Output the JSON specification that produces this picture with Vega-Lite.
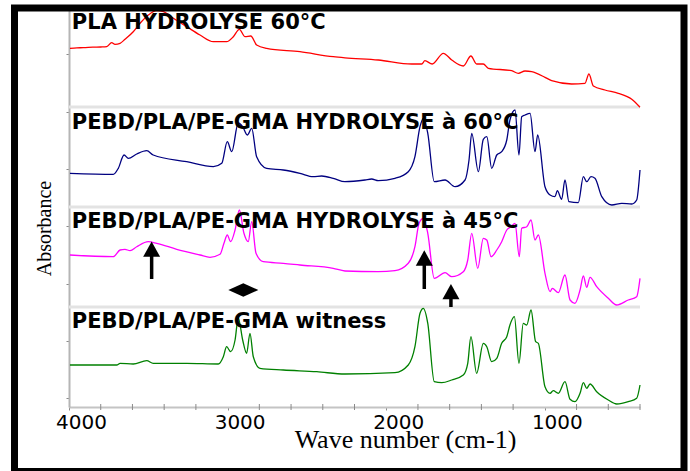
{
  "$schema": "https://vega.github.io/schema/vega-lite/v6.json",
  "width": 571,
  "height": 400,
  "autosize": {"type": "none"},
  "padding": {"left": 69, "top": 7, "right": 50, "bottom": 64},
  "background": "white",
  "config": {
    "view": {"stroke": null},
    "axisX": {
      "titleFont": "Liberation Serif", "titleFontSize": 26, "titleFontWeight": "normal", "titleColor": "#000",
      "titleX": 336, "titleY": 40, "titleBaseline": "alphabetic", "titleAlign": "center",
      "labelFont": "DejaVu Sans", "labelFontSize": 20, "labelColor": "#000",
      "labelAlign": "center", "labelOffset": 12, "labelBaseline": "alphabetic", "labelPadding": 18,
      "labelOverlap": false, "labelFlush": false, "grid": false,
      "domainColor": "#c4c4c4", "domainWidth": 2,
      "tickColor": "#8a8a8a", "tickSize": 3, "tickWidth": 1
    },
    "axisY": {
      "titleFont": "Liberation Serif", "titleFontSize": 20, "titleFontWeight": "normal", "titleColor": "#000",
      "titleX": -19, "titleY": 221, "titleBaseline": "alphabetic", "titleAngle": -90, "titleAlign": "center",
      "labels": false, "grid": false,
      "domainColor": "#b5b5b5", "domainWidth": 2,
      "tickColor": "#8a8a8a", "tickSize": 3, "tickWidth": 1
    }
  },
  "datasets": {
    "spectra": [
      {"s": "PLA", "w": 3994, "a": 3.587}, {"s": "PLA", "w": 3950, "a": 3.592}, {"s": "PLA", "w": 3910, "a": 3.593}, {"s": "PLA", "w": 3850, "a": 3.598}, {"s": "PLA", "w": 3800, "a": 3.6}, {"s": "PLA", "w": 3762, "a": 3.603}, {"s": "PLA", "w": 3731, "a": 3.643}, {"s": "PLA", "w": 3710, "a": 3.627}, {"s": "PLA", "w": 3678, "a": 3.637}, {"s": "PLA", "w": 3647, "a": 3.677}, {"s": "PLA", "w": 3595, "a": 3.753}, {"s": "PLA", "w": 3552, "a": 3.837}, {"s": "PLA", "w": 3500, "a": 3.92}, {"s": "PLA", "w": 3447, "a": 3.963}, {"s": "PLA", "w": 3405, "a": 3.953}, {"s": "PLA", "w": 3342, "a": 3.887}, {"s": "PLA", "w": 3258, "a": 3.803}, {"s": "PLA", "w": 3174, "a": 3.72}, {"s": "PLA", "w": 3090, "a": 3.653}, {"s": "PLA", "w": 3006, "a": 3.653}, {"s": "PLA", "w": 2964, "a": 3.703}, {"s": "PLA", "w": 2926, "a": 3.777}, {"s": "PLA", "w": 2890, "a": 3.703}, {"s": "PLA", "w": 2854, "a": 3.71}, {"s": "PLA", "w": 2817, "a": 3.62}, {"s": "PLA", "w": 2754, "a": 3.587}, {"s": "PLA", "w": 2544, "a": 3.553}, {"s": "PLA", "w": 2334, "a": 3.503}, {"s": "PLA", "w": 2260, "a": 3.492}, {"s": "PLA", "w": 2050, "a": 3.47}, {"s": "PLA", "w": 1839, "a": 3.43}, {"s": "PLA", "w": 1776, "a": 3.43}, {"s": "PLA", "w": 1756, "a": 3.463}, {"s": "PLA", "w": 1710, "a": 3.43}, {"s": "PLA", "w": 1640, "a": 3.537}, {"s": "PLA", "w": 1587, "a": 3.47}, {"s": "PLA", "w": 1514, "a": 3.41}, {"s": "PLA", "w": 1466, "a": 3.51}, {"s": "PLA", "w": 1430, "a": 3.43}, {"s": "PLA", "w": 1388, "a": 3.43}, {"s": "PLA", "w": 1356, "a": 3.387}, {"s": "PLA", "w": 1209, "a": 3.363}, {"s": "PLA", "w": 1167, "a": 3.337}, {"s": "PLA", "w": 1125, "a": 3.36}, {"s": "PLA", "w": 1083, "a": 3.353}, {"s": "PLA", "w": 999, "a": 3.297}, {"s": "PLA", "w": 957, "a": 3.263}, {"s": "PLA", "w": 831, "a": 3.23}, {"s": "PLA", "w": 747, "a": 3.237}, {"s": "PLA", "w": 722, "a": 3.33}, {"s": "PLA", "w": 694, "a": 3.21}, {"s": "PLA", "w": 621, "a": 3.17}, {"s": "PLA", "w": 537, "a": 3.137}, {"s": "PLA", "w": 452, "a": 3.077}, {"s": "PLA", "w": 400, "a": 2.997},

      {"s": "H60", "w": 3994, "a": 2.337}, {"s": "H60", "w": 3721, "a": 2.327}, {"s": "H60", "w": 3689, "a": 2.387}, {"s": "H60", "w": 3653, "a": 2.52}, {"s": "H60", "w": 3626, "a": 2.487}, {"s": "H60", "w": 3573, "a": 2.53}, {"s": "H60", "w": 3510, "a": 2.563}, {"s": "H60", "w": 3469, "a": 2.52}, {"s": "H60", "w": 3258, "a": 2.453}, {"s": "H60", "w": 3090, "a": 2.403}, {"s": "H60", "w": 3037, "a": 2.437}, {"s": "H60", "w": 3002, "a": 2.653}, {"s": "H60", "w": 2974, "a": 2.553}, {"s": "H60", "w": 2933, "a": 2.84}, {"s": "H60", "w": 2905, "a": 2.803}, {"s": "H60", "w": 2876, "a": 2.72}, {"s": "H60", "w": 2848, "a": 2.787}, {"s": "H60", "w": 2817, "a": 2.503}, {"s": "H60", "w": 2754, "a": 2.387}, {"s": "H60", "w": 2649, "a": 2.37}, {"s": "H60", "w": 2544, "a": 2.337}, {"s": "H60", "w": 2460, "a": 2.303}, {"s": "H60", "w": 2407, "a": 2.31}, {"s": "H60", "w": 2334, "a": 2.287}, {"s": "H60", "w": 2260, "a": 2.253}, {"s": "H60", "w": 2134, "a": 2.27}, {"s": "H60", "w": 2092, "a": 2.28}, {"s": "H60", "w": 2050, "a": 2.263}, {"s": "H60", "w": 1945, "a": 2.287}, {"s": "H60", "w": 1861, "a": 2.353}, {"s": "H60", "w": 1819, "a": 2.503}, {"s": "H60", "w": 1787, "a": 2.803}, {"s": "H60", "w": 1766, "a": 2.887}, {"s": "H60", "w": 1738, "a": 2.737}, {"s": "H60", "w": 1697, "a": 2.253}, {"s": "H60", "w": 1629, "a": 2.27}, {"s": "H60", "w": 1566, "a": 2.203}, {"s": "H60", "w": 1503, "a": 2.27}, {"s": "H60", "w": 1478, "a": 2.47}, {"s": "H60", "w": 1461, "a": 2.737}, {"s": "H60", "w": 1419, "a": 2.353}, {"s": "H60", "w": 1388, "a": 2.677}, {"s": "H60", "w": 1366, "a": 2.703}, {"s": "H60", "w": 1335, "a": 2.387}, {"s": "H60", "w": 1303, "a": 2.52}, {"s": "H60", "w": 1272, "a": 2.553}, {"s": "H60", "w": 1240, "a": 2.67}, {"s": "H60", "w": 1220, "a": 2.87}, {"s": "H60", "w": 1188, "a": 2.97}, {"s": "H60", "w": 1163, "a": 2.52}, {"s": "H60", "w": 1146, "a": 2.903}, {"s": "H60", "w": 1125, "a": 2.92}, {"s": "H60", "w": 1093, "a": 2.937}, {"s": "H60", "w": 1062, "a": 2.553}, {"s": "H60", "w": 1045, "a": 2.72}, {"s": "H60", "w": 999, "a": 2.203}, {"s": "H60", "w": 967, "a": 2.12}, {"s": "H60", "w": 936, "a": 2.103}, {"s": "H60", "w": 921, "a": 2.163}, {"s": "H60", "w": 894, "a": 2.077}, {"s": "H60", "w": 873, "a": 2.27}, {"s": "H60", "w": 848, "a": 2.053}, {"s": "H60", "w": 789, "a": 2.043}, {"s": "H60", "w": 757, "a": 2.303}, {"s": "H60", "w": 736, "a": 2.253}, {"s": "H60", "w": 709, "a": 2.303}, {"s": "H60", "w": 684, "a": 2.287}, {"s": "H60", "w": 641, "a": 2.103}, {"s": "H60", "w": 578, "a": 2.02}, {"s": "H60", "w": 515, "a": 2.037}, {"s": "H60", "w": 452, "a": 2.03}, {"s": "H60", "w": 421, "a": 2.07}, {"s": "H60", "w": 400, "a": 2.37},

      {"s": "H45", "w": 3994, "a": 1.52}, {"s": "H45", "w": 3721, "a": 1.503}, {"s": "H45", "w": 3678, "a": 1.57}, {"s": "H45", "w": 3647, "a": 1.577}, {"s": "H45", "w": 3615, "a": 1.563}, {"s": "H45", "w": 3573, "a": 1.603}, {"s": "H45", "w": 3500, "a": 1.653}, {"s": "H45", "w": 3447, "a": 1.637}, {"s": "H45", "w": 3321, "a": 1.577}, {"s": "H45", "w": 3174, "a": 1.52}, {"s": "H45", "w": 3111, "a": 1.497}, {"s": "H45", "w": 3048, "a": 1.527}, {"s": "H45", "w": 3023, "a": 1.637}, {"s": "H45", "w": 3002, "a": 1.72}, {"s": "H45", "w": 2981, "a": 1.653}, {"s": "H45", "w": 2953, "a": 1.77}, {"s": "H45", "w": 2926, "a": 1.97}, {"s": "H45", "w": 2897, "a": 1.737}, {"s": "H45", "w": 2870, "a": 1.653}, {"s": "H45", "w": 2848, "a": 1.853}, {"s": "H45", "w": 2821, "a": 1.537}, {"s": "H45", "w": 2775, "a": 1.453}, {"s": "H45", "w": 2649, "a": 1.437}, {"s": "H45", "w": 2544, "a": 1.42}, {"s": "H45", "w": 2334, "a": 1.387}, {"s": "H45", "w": 2260, "a": 1.36}, {"s": "H45", "w": 2050, "a": 1.353}, {"s": "H45", "w": 1945, "a": 1.363}, {"s": "H45", "w": 1861, "a": 1.437}, {"s": "H45", "w": 1819, "a": 1.603}, {"s": "H45", "w": 1793, "a": 1.837}, {"s": "H45", "w": 1766, "a": 1.887}, {"s": "H45", "w": 1738, "a": 1.737}, {"s": "H45", "w": 1697, "a": 1.287}, {"s": "H45", "w": 1629, "a": 1.343}, {"s": "H45", "w": 1587, "a": 1.303}, {"s": "H45", "w": 1514, "a": 1.353}, {"s": "H45", "w": 1486, "a": 1.47}, {"s": "H45", "w": 1461, "a": 1.737}, {"s": "H45", "w": 1423, "a": 1.387}, {"s": "H45", "w": 1388, "a": 1.687}, {"s": "H45", "w": 1366, "a": 1.67}, {"s": "H45", "w": 1339, "a": 1.503}, {"s": "H45", "w": 1303, "a": 1.57}, {"s": "H45", "w": 1272, "a": 1.653}, {"s": "H45", "w": 1240, "a": 1.77}, {"s": "H45", "w": 1213, "a": 1.803}, {"s": "H45", "w": 1188, "a": 1.837}, {"s": "H45", "w": 1161, "a": 1.503}, {"s": "H45", "w": 1146, "a": 1.787}, {"s": "H45", "w": 1114, "a": 1.803}, {"s": "H45", "w": 1087, "a": 1.87}, {"s": "H45", "w": 1062, "a": 1.67}, {"s": "H45", "w": 1041, "a": 1.72}, {"s": "H45", "w": 999, "a": 1.337}, {"s": "H45", "w": 967, "a": 1.153}, {"s": "H45", "w": 953, "a": 1.187}, {"s": "H45", "w": 915, "a": 1.143}, {"s": "H45", "w": 873, "a": 1.32}, {"s": "H45", "w": 841, "a": 1.07}, {"s": "H45", "w": 810, "a": 1.037}, {"s": "H45", "w": 778, "a": 1.17}, {"s": "H45", "w": 757, "a": 1.31}, {"s": "H45", "w": 736, "a": 1.197}, {"s": "H45", "w": 715, "a": 1.297}, {"s": "H45", "w": 673, "a": 1.203}, {"s": "H45", "w": 600, "a": 1.087}, {"s": "H45", "w": 547, "a": 1.02}, {"s": "H45", "w": 474, "a": 1.07}, {"s": "H45", "w": 421, "a": 1.103}, {"s": "H45", "w": 400, "a": 1.287},

      {"s": "W", "w": 3994, "a": 0.42}, {"s": "W", "w": 3699, "a": 0.42}, {"s": "W", "w": 3678, "a": 0.437}, {"s": "W", "w": 3595, "a": 0.43}, {"s": "W", "w": 3510, "a": 0.463}, {"s": "W", "w": 3469, "a": 0.437}, {"s": "W", "w": 3258, "a": 0.437}, {"s": "W", "w": 3059, "a": 0.43}, {"s": "W", "w": 3027, "a": 0.503}, {"s": "W", "w": 3006, "a": 0.603}, {"s": "W", "w": 2981, "a": 0.553}, {"s": "W", "w": 2953, "a": 0.67}, {"s": "W", "w": 2933, "a": 0.89}, {"s": "W", "w": 2905, "a": 0.67}, {"s": "W", "w": 2880, "a": 0.537}, {"s": "W", "w": 2859, "a": 0.737}, {"s": "W", "w": 2838, "a": 0.503}, {"s": "W", "w": 2796, "a": 0.387}, {"s": "W", "w": 2649, "a": 0.37}, {"s": "W", "w": 2438, "a": 0.353}, {"s": "W", "w": 2260, "a": 0.33}, {"s": "W", "w": 1945, "a": 0.343}, {"s": "W", "w": 1861, "a": 0.42}, {"s": "W", "w": 1819, "a": 0.603}, {"s": "W", "w": 1787, "a": 0.937}, {"s": "W", "w": 1766, "a": 0.987}, {"s": "W", "w": 1738, "a": 0.837}, {"s": "W", "w": 1697, "a": 0.253}, {"s": "W", "w": 1650, "a": 0.243}, {"s": "W", "w": 1587, "a": 0.27}, {"s": "W", "w": 1514, "a": 0.32}, {"s": "W", "w": 1486, "a": 0.437}, {"s": "W", "w": 1466, "a": 0.703}, {"s": "W", "w": 1430, "a": 0.337}, {"s": "W", "w": 1388, "a": 0.637}, {"s": "W", "w": 1366, "a": 0.603}, {"s": "W", "w": 1335, "a": 0.453}, {"s": "W", "w": 1303, "a": 0.487}, {"s": "W", "w": 1272, "a": 0.637}, {"s": "W", "w": 1240, "a": 0.703}, {"s": "W", "w": 1220, "a": 0.82}, {"s": "W", "w": 1192, "a": 0.903}, {"s": "W", "w": 1163, "a": 0.437}, {"s": "W", "w": 1136, "a": 0.837}, {"s": "W", "w": 1114, "a": 0.82}, {"s": "W", "w": 1087, "a": 0.97}, {"s": "W", "w": 1058, "a": 0.653}, {"s": "W", "w": 1041, "a": 0.637}, {"s": "W", "w": 999, "a": 0.203}, {"s": "W", "w": 967, "a": 0.137}, {"s": "W", "w": 947, "a": 0.163}, {"s": "W", "w": 915, "a": 0.137}, {"s": "W", "w": 873, "a": 0.253}, {"s": "W", "w": 841, "a": 0.077}, {"s": "W", "w": 810, "a": 0.053}, {"s": "W", "w": 778, "a": 0.137}, {"s": "W", "w": 757, "a": 0.243}, {"s": "W", "w": 736, "a": 0.187}, {"s": "W", "w": 715, "a": 0.23}, {"s": "W", "w": 673, "a": 0.153}, {"s": "W", "w": 600, "a": 0.07}, {"s": "W", "w": 547, "a": 0.03}, {"s": "W", "w": 474, "a": 0.053}, {"s": "W", "w": 421, "a": 0.087}, {"s": "W", "w": 400, "a": 0.22}
    ],
    "labels": [
      {"label": "PLA HYDROLYSE 60°C", "w": 3982, "a": 3.78},
      {"label": "PEBD/PLA/PE-GMA HYDROLYSE à 60°C", "w": 3982, "a": 2.78},
      {"label": "PEBD/PLA/PE-GMA HYDROLYSE à 45°C", "w": 3982, "a": 1.79},
      {"label": "PEBD/PLA/PE-GMA witness", "w": 3982, "a": 0.79}
    ],
    "arrows": [
      {"w": 3479, "a": 1.28, "a2": 1.53, "head": 1.578},
      {"w": 1760, "a": 1.18, "a2": 1.46, "head": 1.49},
      {"w": 1592, "a": 1.0, "a2": 1.12, "head": 1.153}
    ],
    "bands": [{"w": 2901, "a": 1.17}],
    "panels": [{"a": 1}, {"a": 2}, {"a": 3}],
    "minor": [{"w": 3800}, {"w": 3600}, {"w": 3400}, {"w": 3200}, {"w": 2800}, {"w": 2600}, {"w": 2400}, {"w": 2200}, {"w": 1800}, {"w": 1600}, {"w": 1400}, {"w": 1200}, {"w": 800}, {"w": 600}, {"w": 400}],
    "frame": [{"x1": 4343.6, "x2": 122.6, "y1": 3.99, "y2": -0.645}]
  },
  "layer": [
    {
      "data": {"name": "panels"},
      "mark": {"type": "rule", "color": "#e3e3e3", "strokeWidth": 3},
      "encoding": {
        "y": {"field": "a", "type": "quantitative", "scale": {"domain": [0, 4], "nice": false, "zero": false},
          "axis": {
            "title": "Absorbance",
            "values": [0.0867, 0.23, 0.3733, 0.5167, 0.66, 0.8033, 0.9467, 1.09, 1.2333, 1.3767, 1.52, 1.6633, 1.8067, 1.95, 2.0933, 2.2367, 2.38, 2.5233, 2.6667, 2.81, 2.9533, 3.0967, 3.24, 3.3833, 3.5267, 3.67, 3.8133, 3.9567]
          }
        }
      }
    },
    {
      "data": {"name": "minor"},
      "mark": {"type": "tick", "orient": "vertical", "size": 6, "thickness": 1, "color": "#8a8a8a", "opacity": 1},
      "encoding": {
        "x": {"field": "w", "type": "quantitative", "title": "Wave number (cm-1)"},
        "y": {"datum": 0, "type": "quantitative"}
      }
    },
    {
      "data": {"name": "spectra"},
      "mark": {"type": "line", "strokeWidth": 1.3, "interpolate": "monotone"},
      "encoding": {
        "x": {"field": "w", "type": "quantitative", "scale": {"domain": [400, 4000], "reverse": true, "nice": false, "zero": false},
          "axis": {
            "title": "Wave number (cm-1)",
            "values": [4000, 3000, 2000, 1000],
            "format": "d",
            "labelOverlap": false
          }
        },
        "y": {"field": "a", "type": "quantitative", "title": "Absorbance"},
        "color": {"field": "s", "type": "nominal", "legend": null,
          "scale": {"domain": ["PLA", "H60", "H45", "W"], "range": ["#ff0000", "#000080", "#ff00ff", "#008000"]}},
        "detail": {"field": "s"}
      }
    },
    {
      "data": {"name": "labels"},
      "mark": {"type": "text", "font": "DejaVu Sans", "fontSize": 21, "fontWeight": "bold", "color": "#000", "align": "left", "baseline": "alphabetic"},
      "encoding": {
        "x": {"field": "w", "type": "quantitative", "title": "Wave number (cm-1)"},
        "y": {"field": "a", "type": "quantitative", "title": "Absorbance"},
        "text": {"field": "label"}
      }
    },
    {
      "data": {"name": "arrows"},
      "mark": {"type": "rule", "color": "#000", "strokeWidth": 3.5},
      "encoding": {
        "x": {"field": "w", "type": "quantitative", "title": "Wave number (cm-1)"},
        "y": {"field": "a", "type": "quantitative", "title": "Absorbance"},
        "y2": {"field": "a2"}
      }
    },
    {
      "data": {"name": "arrows"},
      "mark": {"type": "point", "shape": "M-1,0.9L0,-0.9L1,0.9Z", "filled": true, "color": "#000", "opacity": 1, "size": 289, "strokeWidth": 0},
      "encoding": {
        "x": {"field": "w", "type": "quantitative", "title": "Wave number (cm-1)"},
        "y": {"field": "head", "type": "quantitative", "title": "Absorbance"}
      }
    },
    {
      "data": {"name": "bands"},
      "mark": {"type": "point", "shape": "M-1,0L0,-0.45L1,0L0,0.45Z", "filled": true, "color": "#000", "opacity": 1, "size": 900, "strokeWidth": 0},
      "encoding": {
        "x": {"field": "w", "type": "quantitative", "title": "Wave number (cm-1)"},
        "y": {"field": "a", "type": "quantitative", "title": "Absorbance"}
      }
    },
    {
      "data": {"name": "frame"},
      "mark": {"type": "rect", "fill": "transparent", "stroke": "#000", "strokeWidth": 7, "clip": false},
      "encoding": {
        "x": {"field": "x1", "type": "quantitative", "title": "Wave number (cm-1)"},
        "x2": {"field": "x2"},
        "y": {"field": "y1", "type": "quantitative", "title": "Absorbance"},
        "y2": {"field": "y2"}
      }
    }
  ]
}
